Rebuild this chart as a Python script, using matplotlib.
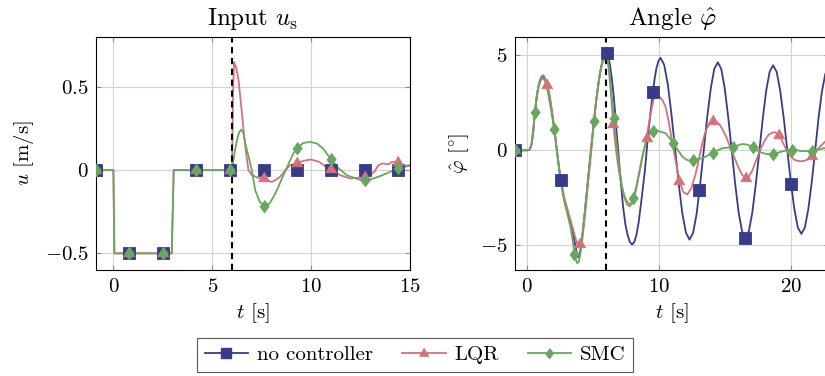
import numpy as np
import matplotlib
matplotlib.use("Agg")
import matplotlib.pyplot as plt
from matplotlib.lines import Line2D

plt.rcParams["font.family"] = "serif"
plt.rcParams["font.serif"] = ["cmr10"]
plt.rcParams["mathtext.fontset"] = "cm"
plt.rcParams["axes.formatter.use_mathtext"] = True
plt.rcParams["font.size"] = 15

# --- input u_s [m/s] (left panel) ---
# common step before the disturbance, identical for all three runs
STEP_T = [-0.9, 0.0, 0.05, 2.95, 3.05, 6.0]
STEP_U = [0, 0, -0.5, -0.5, 0, 0]

LQR_U_T = [6.05, 6.1, 6.2, 6.33, 6.5, 6.67, 6.83, 7.0, 7.2, 7.4, 7.6, 7.8, 8.0,
           8.2, 8.43, 8.7, 8.94, 9.3, 9.61, 10.0, 10.4, 10.7, 11.0, 11.46, 11.97,
           12.39, 12.7, 13.0, 13.2, 13.4, 13.6, 13.9, 14.1, 14.4, 14.7, 15.0]
LQR_U = [0.45, 0.65, 0.62, 0.54, 0.34, 0.14, 0.0, -0.03, -0.04, -0.05, -0.05,
         -0.065, -0.07, -0.06, -0.04, 0.0, 0.03, 0.042, 0.056, 0.064, 0.05, 0.025,
         0.005, -0.03, -0.05, -0.045, -0.04, -0.025, -0.01, 0.03, 0.04, 0.035,
         0.05, 0.05, 0.02, 0.025]

SMC_U_T = [6.12, 6.25, 6.35, 6.46, 6.57, 6.67, 6.84, 7.0, 7.17, 7.4, 7.6, 7.9,
           8.1, 8.27, 8.45, 8.6, 8.9, 9.19, 9.3, 9.6, 9.95, 10.3, 10.6, 11.0, 11.4,
           11.8, 12.14, 12.4, 12.7, 13.0, 13.4, 13.8, 14.1, 14.4, 14.7, 15.0]
SMC_U = [0.1, 0.18, 0.225, 0.244, 0.225, 0.16, 0.08, 0.0, -0.12, -0.19, -0.215,
         -0.2, -0.16, -0.12, -0.07, -0.03, 0.05, 0.12, 0.135, 0.163, 0.17, 0.16,
         0.13, 0.066, 0.01, -0.03, -0.045, -0.055, -0.06, -0.055, -0.04, -0.02,
         -0.005, 0.01, 0.025, 0.03]

U_MARK_T = [-0.9, 0.8, 2.5, 4.2, 5.9, 7.6, 9.3, 11.0, 12.7, 14.4]
U_MARK_NONE = [0, -0.5, -0.5, 0, 0, 0, 0, 0, 0, 0]
U_MARK_LQR = [0, -0.5, -0.5, 0, 0, -0.05, 0.042, 0.005, -0.04, 0.05]
U_MARK_SMC = [0, -0.5, -0.5, 0, 0, -0.215, 0.135, 0.066, -0.06, 0.01]

# --- angle phi_hat [deg] (right panel), (t, value) pairs ---
NONE_PHI = [
    (-0.9, 0), (0.1, 0), (0.25, 0.05), (0.38, 0.35), (0.5, 1.0), (0.63, 2.02),
    (0.76, 2.8), (0.88, 3.3), (1.0, 3.65), (1.13, 3.85), (1.26, 3.89), (1.4, 3.75),
    (1.56, 3.45), (1.72, 2.9), (1.9, 2.1), (2.09, 1.12), (2.3, -0.1), (2.57, -1.58),
    (2.85, -2.6), (3.15, -3.4), (3.35, -3.9), (3.53, -4.44), (3.68, -5.0),
    (3.78, -5.35), (3.9, -5.63), (4.03, -5.4), (4.16, -4.8), (4.35, -3.6),
    (4.53, -2.33), (4.66, -1.4), (4.79, -0.5), (4.95, 0.6), (5.09, 1.53),
    (5.25, 2.55), (5.42, 3.46), (5.57, 4.15), (5.72, 4.65), (5.88, 5.0),
    (6.05, 5.12), (6.18, 4.95), (6.3, 4.5), (6.42, 3.9), (6.55, 3.1), (6.68, 2.1),
    (6.8, 1.0), (6.93, -0.05), (7.05, -1.1), (7.18, -2.1), (7.3, -3.0),
    (7.47, -3.9), (7.63, -4.44), (7.8, -4.82), (7.98, -4.96), (8.15, -4.82),
    (8.31, -4.44), (8.48, -3.75), (8.64, -2.86), (8.79, -2.0), (8.94, -1.1),
    (9.07, -0.1), (9.19, 0.82), (9.37, 2.0), (9.55, 3.05), (9.68, 3.75),
    (9.82, 4.33), (9.98, 4.72), (10.13, 4.86), (10.40, 4.50), (10.68, 3.46),
    (10.95, 1.91), (11.23, 0.08), (11.50, -1.75), (11.77, -3.30), (12.05, -4.34),
    (12.32, -4.70), (12.59, -4.35), (12.86, -3.33), (13.12, -1.82), (13.39, -0.04),
    (13.66, 1.75), (13.93, 3.26), (14.19, 4.28), (14.46, 4.63), (14.72, 4.28),
    (14.98, 3.28), (15.24, 1.78), (15.51, 0.02), (15.77, -1.75), (16.03, -3.25),
    (16.29, -4.25), (16.55, -4.60), (16.81, -4.26), (17.07, -3.27), (17.33, -1.80),
    (17.60, -0.07), (17.86, 1.67), (18.12, 3.14), (18.38, 4.13), (18.64, 4.47),
    (18.91, 4.13), (19.17, 3.17), (19.44, 1.73), (19.71, 0.04), (19.98, -1.66),
    (20.25, -3.10), (20.51, -4.06), (20.78, -4.40), (21.04, -4.07), (21.30, -3.12),
    (21.56, -1.70), (21.82, -0.03), (22.07, 1.65), (22.33, 3.07), (22.59, 4.02),
    (22.85, 4.35), (23.0, 4.3),
]
LQR_PHI = [
    (-0.9, 0), (0.1, 0), (0.25, 0.05), (0.38, 0.35), (0.5, 1.0), (0.63, 2.02),
    (0.76, 2.85), (0.88, 3.35), (1.0, 3.7), (1.13, 3.9), (1.26, 3.95), (1.4, 3.8),
    (1.56, 3.46), (1.72, 2.95), (1.9, 2.15), (2.09, 1.15), (2.3, -0.05),
    (2.57, -1.5), (2.85, -2.5), (3.15, -3.25), (3.35, -3.75), (3.53, -4.2),
    (3.68, -4.6), (3.83, -4.9), (3.98, -5.0), (4.1, -4.85), (4.22, -4.4),
    (4.35, -3.6), (4.53, -2.33), (4.66, -1.4), (4.79, -0.5), (4.95, 0.6),
    (5.09, 1.53), (5.25, 2.55), (5.42, 3.46), (5.57, 4.15), (5.72, 4.65),
    (5.88, 5.0), (6.02, 5.1), (6.12, 4.8), (6.22, 4.2), (6.32, 3.4), (6.42, 2.6),
    (6.55, 1.4), (6.68, 0.5), (6.8, -0.2), (6.93, -0.85), (7.05, -1.4),
    (7.18, -1.85), (7.3, -2.2), (7.43, -2.45), (7.55, -2.65), (7.68, -2.75),
    (7.8, -2.82), (7.95, -2.8), (8.1, -2.6), (8.3, -2.0), (8.5, -1.3),
    (8.7, -0.55), (8.9, 0.1), (9.07, 0.67), (9.2, 1.2), (9.35, 1.8), (9.5, 2.35),
    (9.63, 2.75), (9.75, 2.93), (9.9, 2.9), (10.1, 2.78), (10.3, 2.6), (10.5, 2.3),
    (10.75, 1.5), (11.0, 0.47), (11.28, -0.6), (11.56, -1.63), (11.85, -2.2),
    (12.14, -2.33), (12.45, -2.0), (12.77, -1.28), (13.02, -0.5), (13.27, 0.3),
    (13.45, 0.8), (13.65, 1.18), (13.9, 1.45), (14.08, 1.53), (14.35, 1.5),
    (14.6, 1.35), (14.78, 1.15), (15.1, 0.7), (15.42, 0.12), (15.75, -0.45),
    (16.04, -0.93), (16.3, -1.3), (16.57, -1.45), (16.8, -1.38), (17.05, -1.1),
    (17.35, -0.55), (17.68, 0.04), (18.0, 0.5), (18.31, 0.82), (18.6, 0.93),
    (18.82, 0.95), (19.07, 0.8), (19.25, 0.6), (19.45, 0.3), (19.7, -0.05),
    (19.95, -0.32), (20.3, -0.52), (20.71, -0.58), (21.0, -0.56), (21.34, -0.45),
    (21.59, -0.3), (21.85, -0.1), (22.09, 0.12), (22.35, 0.3), (22.6, 0.47),
    (23.0, 0.65),
]
SMC_PHI = [
    (-0.9, 0), (0.1, 0), (0.25, 0.05), (0.38, 0.35), (0.5, 1.0), (0.62, 2.0),
    (0.76, 2.75), (0.88, 3.25), (1.0, 3.55), (1.1, 3.72), (1.22, 3.78), (1.35, 3.7),
    (1.5, 3.4), (1.65, 2.9), (1.85, 2.1), (2.1, 1.1), (2.3, -0.1), (2.57, -1.6),
    (2.85, -2.7), (3.15, -3.55), (3.35, -4.15), (3.5, -4.85), (3.62, -5.44),
    (3.7, -5.7), (3.83, -5.95), (3.95, -5.85), (4.05, -5.5), (4.16, -5.0),
    (4.35, -3.85), (4.53, -2.6), (4.66, -1.65), (4.79, -0.75), (4.95, 0.45),
    (5.1, 1.53), (5.25, 2.55), (5.42, 3.45), (5.57, 4.1), (5.72, 4.55),
    (5.88, 4.88), (6.0, 4.98), (6.12, 4.8), (6.25, 4.25), (6.4, 3.1), (6.6, 1.7),
    (6.8, 0.35), (7.0, -0.85), (7.2, -1.85), (7.4, -2.5), (7.6, -2.85),
    (7.8, -2.95), (7.95, -2.8), (8.08, -2.5), (8.3, -1.9), (8.5, -1.2),
    (8.7, -0.5), (8.9, 0.1), (9.1, 0.55), (9.3, 0.85), (9.58, 1.04), (9.85, 1.05),
    (10.1, 0.98), (10.5, 0.9), (10.8, 0.65), (11.08, 0.39), (11.45, 0.0),
    (11.76, -0.32), (12.1, -0.5), (12.35, -0.55), (12.6, -0.52), (12.9, -0.47),
    (13.27, -0.42), (13.7, -0.28), (14.1, -0.14), (14.45, 0.0), (14.78, 0.1),
    (15.2, 0.14), (15.6, 0.16), (15.95, 0.25), (16.3, 0.33), (16.7, 0.3),
    (17.1, 0.16), (17.45, -0.02), (17.8, -0.14), (18.2, -0.2), (18.6, -0.19),
    (18.9, -0.15), (19.2, -0.09), (19.65, 0.0), (20.1, 0.04), (20.45, 0.0),
    (20.8, -0.05), (21.2, -0.04), (21.6, -0.02), (22.0, 0.03), (22.3, 0.08),
    (22.6, 0.12), (23.0, 0.16),
]
# marker positions along each angle curve
NONE_PHI_MARKS = [(-0.9, 0), (2.57, -1.58), (6.05, 5.12), (9.55, 3.05),
                  (13.07, -2.1), (16.55, -4.6), (20.0, -1.77)]
LQR_PHI_MARKS = [(-0.9, 0), (1.56, 3.46), (4.05, -4.93), (6.55, 1.4), (9.07, 0.67),
                 (11.56, -1.63), (14.08, 1.53), (16.57, -1.45), (19.07, 0.8),
                 (21.59, -0.3)]
SMC_PHI_MARKS = [(-0.9, 0), (0.62, 2.0), (2.1, 1.1), (3.62, -5.44), (5.1, 1.53),
                 (6.6, 1.7), (8.08, -2.5), (9.58, 1.04), (11.08, 0.39),
                 (12.6, -0.52), (14.1, -0.14), (15.6, 0.16), (17.1, 0.16),
                 (18.6, -0.19), (20.1, 0.04), (21.6, -0.02)]

T_DISTURB = 6.0
LABELS = ["no controller", "LQR", "SMC"]

# --- style (pgfplots look) ---
C_NONE = "#373c8a"
C_LQR = "#d5717a"
C_SMC = "#66a85e"
TRI = [(0, 1), (-0.866, -0.5), (0.866, -0.5)]
DIA = [(0, 1), (0.75, 0), (0, -1), (-0.75, 0)]
STYLES = [
    dict(color=C_NONE, marker="s", ms=8.6),
    dict(color=C_LQR, marker=TRI, ms=9.4),
    dict(color=C_SMC, marker=DIA, ms=9.0),
]
LW = 1.3


def style_axes(ax):
    ax.grid(True, color="#d4d4d4", lw=0.8)
    ax.set_axisbelow(True)
    ax.tick_params(direction="in", top=True, right=True, length=3.5,
                   width=0.8, color="0.55", pad=5.5)
    for s in ax.spines.values():
        s.set_linewidth(0.8)
    ax.axvline(T_DISTURB, color="black", lw=1.5, ls=(0, (3.0, 2.2)), zorder=2.5)


def draw_marks(ax, t, y, st):
    ax.plot(t, y, ls="none", marker=st["marker"], ms=st["ms"], mfc=st["color"],
            mec=st["color"], mew=0.6, zorder=3, clip_on=True)


fig = plt.figure(figsize=(8.25, 3.76), dpi=100)
ax1 = fig.add_axes([96 / 825, 1 - 270 / 376, 314 / 825, 233 / 376])
ax2 = fig.add_axes([515 / 825, 1 - 270 / 376, 314 / 825, 233 / 376])

# left: input
lqr_t = STEP_T + LQR_U_T
lqr_u = STEP_U + LQR_U
smc_t = STEP_T + SMC_U_T
smc_u = STEP_U + SMC_U
ax1.plot(lqr_t, lqr_u, color=C_LQR, lw=LW, zorder=2)
ax1.plot(smc_t, smc_u, color=C_SMC, lw=LW, zorder=2)
for ys, st in zip([U_MARK_NONE, U_MARK_LQR, U_MARK_SMC], STYLES):
    draw_marks(ax1, U_MARK_T, ys, st)

ax1.set_xlim(-0.88, 15)
ax1.set_ylim(-0.6, 0.8)
ax1.set_xticks([0, 5, 10, 15], labels=[r"$0$", r"$5$", r"$10$", r"$15$"])
ax1.set_yticks([-0.5, 0, 0.5], labels=[r"$-0.5$", r"$0$", r"$0.5$"])
ax1.set_xlabel(r"$t$ [s]", labelpad=4)
ax1.set_ylabel(r"$u$ [m/s]", labelpad=6)
ax1.set_title(r"Input $u_\mathrm{s}$", pad=9)
style_axes(ax1)

# right: angle
for series, marks, st in zip([NONE_PHI, LQR_PHI, SMC_PHI],
                             [NONE_PHI_MARKS, LQR_PHI_MARKS, SMC_PHI_MARKS], STYLES):
    t, y = np.array(series, dtype=float).T
    ax2.plot(t, y, color=st["color"], lw=LW, zorder=2)
    mt, my = np.array(marks, dtype=float).T
    draw_marks(ax2, mt, my, st)

ax2.set_xlim(-0.88, 22.87)
ax2.set_ylim(-6.3, 5.96)
ax2.set_xticks([0, 10, 20], labels=[r"$0$", r"$10$", r"$20$"])
ax2.set_yticks([-5, 0, 5], labels=[r"$-5$", r"$0$", r"$5$"])
ax2.set_xlabel(r"$t$ [s]", labelpad=4)
ax2.set_ylabel(r"$\hat{\varphi}$ $[{}^{\circ}]$", labelpad=6)
ax2.set_title(r"Angle $\hat{\varphi}$", pad=9)
style_axes(ax2)

handles = [Line2D([], [], color=st["color"], lw=LW, marker=st["marker"],
                  ms=st["ms"] * 0.8, mfc=st["color"], mec=st["color"])
           for st in STYLES]
leg = fig.legend(handles, LABELS, loc="center", bbox_to_anchor=(0.503, 0.056),
                 ncol=3, fancybox=False, edgecolor="0.35", framealpha=1,
                 handlelength=2.1, handletextpad=0.4, columnspacing=1.4,
                 borderpad=0.35)
leg.get_frame().set_linewidth(0.8)

fig.savefig("out.png", dpi=100)
